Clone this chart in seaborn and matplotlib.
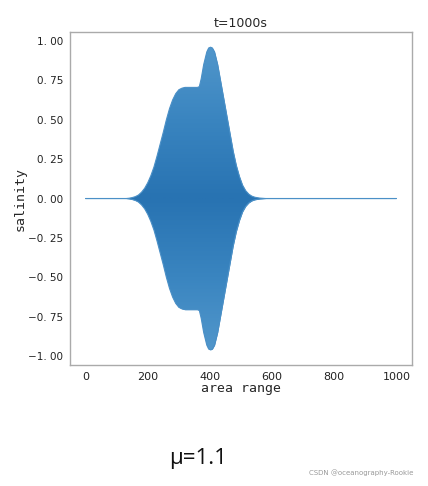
import matplotlib
matplotlib.use("Agg")
import matplotlib.pyplot as plt
import numpy as np
import pandas as pd
import seaborn as sns
from matplotlib.colors import LinearSegmentedColormap

# envelope of the oscillating salinity signal at t=1000s
area_x = [0, 100, 130, 140, 150, 160, 170, 180, 190, 200, 210, 220, 230, 240, 250, 260, 270, 280,
          290, 300, 310, 320, 340, 360, 366, 372, 380, 390, 396, 402, 408, 415, 425, 435, 445,
          455, 465, 475, 485, 495, 505, 515, 525, 535, 545, 560, 580, 600, 800, 1000]
salinity_upper = [0.0, 0.0, 0.0, 0.002, 0.006, 0.012, 0.022, 0.04, 0.065, 0.10, 0.145, 0.20, 0.27,
                  0.345, 0.42, 0.50, 0.57, 0.625, 0.665, 0.69, 0.70, 0.705, 0.705, 0.705, 0.71,
                  0.76, 0.85, 0.93, 0.955, 0.96, 0.955, 0.93, 0.85, 0.74, 0.63, 0.52, 0.41, 0.30,
                  0.21, 0.14, 0.085, 0.05, 0.028, 0.015, 0.008, 0.003, 0.0, 0.0, 0.0, 0.0]
salinity_lower = [-v for v in salinity_upper]

x_ticks = [0, 200, 400, 600, 800, 1000]
y_ticks = [-1.0, -0.75, -0.5, -0.25, 0.0, 0.25, 0.5, 0.75, 1.0]

sns.set_theme(style="white")
plt.rcParams["font.family"] = ["DejaVu Sans"]

df = pd.DataFrame({"x": area_x, "upper": salinity_upper, "lower": salinity_lower})

fig = plt.figure(figsize=(4.28, 4.86), dpi=100)
ax = fig.add_axes([0.1636, 0.249, 0.799, 0.685])

band = ax.fill_between(df["x"], df["lower"], df["upper"], color="#3a84bf", linewidth=0)
cmap = LinearSegmentedColormap.from_list("sal", ["#2873b2", "#3a85c0", "#5398cc"])
grad = np.abs(np.linspace(-1, 1, 256)).reshape(-1, 1)
img = ax.imshow(grad, extent=(df["x"].min(), df["x"].max(), -1, 1), aspect="auto",
                cmap=cmap, origin="lower", zorder=2)
img.set_clip_path(band.get_paths()[0], transform=ax.transData)
sns.lineplot(data=df, x="x", y="upper", ax=ax, color="#4b90c7", linewidth=0.8, zorder=3)
sns.lineplot(data=df, x="x", y="lower", ax=ax, color="#4b90c7", linewidth=0.8, zorder=3)

xr = df["x"].max() - df["x"].min()
yr = df["upper"].max() - df["lower"].min()
ax.set_xlim(df["x"].min() - 0.05 * xr, df["x"].max() + 0.05 * xr)
ax.set_ylim(df["lower"].min() - 0.05 * yr, df["upper"].max() + 0.05 * yr)

ax.set_xticks(x_ticks)
ax.set_yticks(y_ticks)
ax.set_xticklabels([str(t) for t in x_ticks], fontsize=8)
ax.set_yticklabels([f"{t:.2f}".replace(".", ". ").replace("-", "\u2212") for t in y_ticks], fontsize=7.5)
ax.tick_params(axis="both", direction="out", length=3, width=0.8, pad=2, colors="#222222")
ax.tick_params(axis="both", color="#888888")

for spine in ax.spines.values():
    spine.set_color("#aaaaaa")
    spine.set_linewidth(1.0)

ax.set_title("t=1000s", fontsize=9, pad=4)
ax.set_xlabel("area range", family="DejaVu Sans Mono", fontsize=9.5, labelpad=0)
ax.set_ylabel("salinity", family="DejaVu Sans Mono", fontsize=9.5, labelpad=1)

fig.text(0.462, 0.057, "\u03bc=1.1", fontsize=16, ha="center", va="center", color="#111111",
         family=["Open Sans", "DejaVu Sans"])
fig.text(0.965, 0.028, "CSDN @oceanography-Rookie", fontsize=5, ha="right", va="center", color="#999999")

fig.savefig("out.png", dpi=100)
plt.close(fig)
